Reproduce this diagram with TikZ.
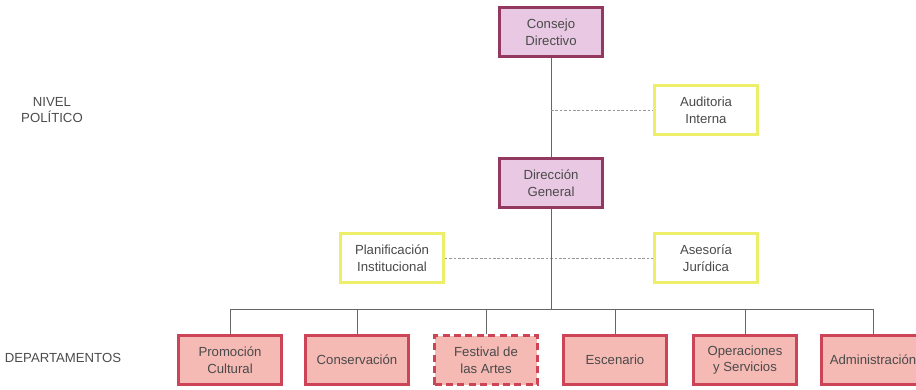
\documentclass[tikz,border=0pt]{standalone}
\usepackage{fontspec}
\setmainfont{Liberation Sans}
\usepackage{tikz}
\definecolor{lila}{HTML}{E8C8E2}
\definecolor{lilaborde}{HTML}{93395F}
\definecolor{amarillo}{HTML}{EDEF6A}
\definecolor{salmon}{HTML}{F6BAB5}
\definecolor{salmonborde}{HTML}{CC4455}
\definecolor{texto}{HTML}{4A4A4A}

\begin{document}
\begin{tikzpicture}[x=0.02cm, y=-0.02cm,
		caja/.style={rectangle, minimum width=2.06cm, minimum height=0.98cm, align=center,
			font=\fontsize{7.5}{9.5}\selectfont, text=texto, line width=1.4pt},
		directivo/.style={caja, draw=lilaborde, fill=lila},
		asesor/.style={caja, draw=amarillo, fill=white},
		depto/.style={caja, draw=salmonborde, fill=salmon},
		provisional/.style={dash pattern=on 4pt off 2.5pt},
		linea/.style={draw=black!60, line width=0.5pt},
		puntos/.style={draw=black!40, dash pattern=on 1.5pt off 1pt, line width=0.5pt},
		nivel/.style={font=\fontsize{7.5}{9}\selectfont, text=black!70, align=center}]
			%%%%% START %%%%%
			\useasboundingbox (0, 0) rectangle (916, 389);
			
			\node[nivel] (np) at (52, 110) {NIVEL\\POL\'ITICO};
			\node[nivel] (nd) at (63, 358) {DEPARTAMENTOS};
			
			\node[directivo] (cd) at (551, 32) {Consejo\\Directivo};
			\node[asesor] (ai) at (706, 110) {Auditoria\\Interna};
			\node[directivo] (dg) at (551, 183) {Direcci\'on\\General};
			\node[asesor] (pi) at (392, 258) {Planificaci\'on\\Institucional};
			\node[asesor] (aj) at (706, 258) {Asesor\'ia\\Jur\'idica};
			
			\node[depto] (pc) at (230, 360) {Promoci\'on\\Cultural};
			\node[depto] (co) at (357, 360) {Conservaci\'on};
			\node[depto, provisional] (fa) at (486, 360) {Festival de\\las Artes};
			\node[depto] (es) at (615, 360) {Escenario};
			\node[depto] (os) at (745, 360) {Operaciones\\y Servicios};
			\node[depto] (ad) at (873, 360) {Administraci\'on};
			
			\coordinate (bus) at (551, 309);
			
			\draw[linea] (cd) -- (dg);
			\draw[puntos] (cd.south |- ai.west) -- (ai.west);
			\draw[puntos] (pi.east) -- (aj.west);
			\draw[linea] (dg) -- (bus);
			\foreach \d in {pc, co, fa, es, os, ad}
				\draw[linea] (\d.north) |- (bus);
			
			%%%%% END %%%%%
\end{tikzpicture}
\end{document}
